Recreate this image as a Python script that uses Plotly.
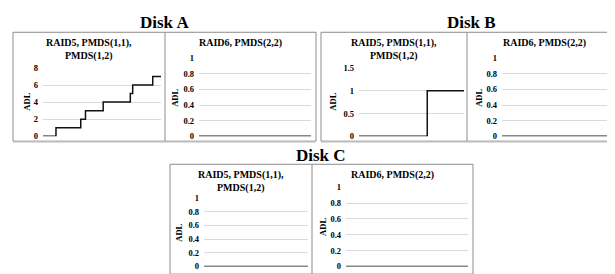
import plotly.graph_objects as go

W, H = 615, 274

# ---- data ----
time_full = [0, 100]
zeros = [0, 0]

diskA_raid5_time = [0, 11, 32, 36, 51, 74, 76, 93, 100]
diskA_raid5_adl = [0, 1, 2, 3, 4, 5, 6, 7, 7]
diskA_raid6_adl = zeros

diskB_raid5_time = [0, 65, 100]
diskB_raid5_adl = [0, 1, 1]
diskB_raid6_adl = zeros

diskC_raid5_adl = zeros
diskC_raid6_adl = zeros

ticks_0_8 = [0, 2, 4, 6, 8]
ticks_0_15 = [0, 0.5, 1, 1.5]
tick_text_0_15 = ["0", "0.5", "1", "1.5"]
ticks_0_1 = [0, 0.2, 0.4, 0.6, 0.8, 1]
tick_text_0_1 = ["0", "0.2", "0.4", "0.6", "0.8", "1"]

disk_titles = ["Disk A", "Disk B", "Disk C"]
panel_left_title = "RAID5, PMDS(1,1),<br>PMDS(1,2)"
panel_right_title = "RAID6, PMDS(2,2)"


def px(x):
    return x / W


def py(y):
    return 1 - y / H


FONT = "Liberation Serif"

panels = [
    dict(x=(35, 153), y=(57, 128), rng=[0, 8], tv=ticks_0_8, tt=[str(v) for v in ticks_0_8],
         t=diskA_raid5_time, v=diskA_raid5_adl),
    dict(x=(191, 303), y=(47, 128), rng=[0, 1], tv=ticks_0_1, tt=tick_text_0_1,
         t=time_full, v=diskA_raid6_adl),
    dict(x=(351, 456), y=(57, 128), rng=[0, 1.5], tv=ticks_0_15, tt=tick_text_0_15,
         t=diskB_raid5_time, v=diskB_raid5_adl),
    dict(x=(494, 610), y=(47, 128), rng=[0, 1], tv=ticks_0_1, tt=tick_text_0_1,
         t=time_full, v=diskB_raid6_adl),
    dict(x=(196, 300), y=(192, 263), rng=[0, 1], tv=ticks_0_1, tt=tick_text_0_1,
         t=time_full, v=diskC_raid5_adl),
    dict(x=(338, 460), y=(181, 263), rng=[0, 1], tv=ticks_0_1, tt=tick_text_0_1,
         t=time_full, v=diskC_raid6_adl),
]

fig = go.Figure()
layout = dict(
    width=W, height=H, margin=dict(l=0, r=0, t=0, b=0),
    paper_bgcolor="white", plot_bgcolor="white", showlegend=False,
    font=dict(family=FONT, color="#000"),
)

for i, p in enumerate(panels, start=1):
    xa = "x" if i == 1 else f"x{i}"
    ya = "y" if i == 1 else f"y{i}"
    fig.add_trace(go.Scatter(
        x=p["t"], y=p["v"], mode="lines", line=dict(color="#111", width=1.5, shape="hv"),
        xaxis=xa, yaxis=ya, cliponaxis=False, hoverinfo="skip",
    ))
    key = "" if i == 1 else str(i)
    layout["xaxis" + key] = dict(
        domain=[px(p["x"][0]), px(p["x"][1])], range=[0, 100], anchor=ya,
        showgrid=False, zeroline=False, showticklabels=False, showline=False, fixedrange=True,
    )
    layout["yaxis" + key] = dict(
        domain=[py(p["y"][1]), py(p["y"][0])], range=p["rng"], anchor=xa,
        tickvals=p["tv"], ticktext=p["tt"], showgrid=True, gridcolor="#d9d9d9", gridwidth=1,
        zeroline=False, showline=False, ticks="", ticklabelstandoff=4,
        tickfont=dict(family=FONT, size=8.5, weight="bold", color="#000"), fixedrange=True,
    )

shapes = []
annotations = []

boxes = [  # (x0, xmid, x1, ytop, ybot)
    (5, 157, 308, 20, 133),
    (313, 459, 614, 20, 133),
    (162, 304, 465, 157, 271),
]
title_pos = [(156, 10), (463, 10), (313, 148)]

for (x0, xm, x1, yt, yb), (tx, ty), title in zip(boxes, title_pos, disk_titles):
    shapes.append(dict(type="rect", xref="paper", yref="paper", x0=px(x0), x1=px(x1),
                       y0=py(yb), y1=py(yt), line=dict(color="#8c8c8c", width=1)))
    shapes.append(dict(type="line", xref="paper", yref="paper", x0=px(xm), x1=px(xm),
                       y0=py(yb), y1=py(yt), line=dict(color="#8c8c8c", width=1)))
    shapes.append(dict(type="line", xref="paper", yref="paper", x0=px(x0), x1=px(x1),
                       y0=py(yb + 1), y1=py(yb + 1), line=dict(color="#c8c8c8", width=1)))
    annotations.append(dict(text="<b>" + title + "</b>", x=px(tx), y=py(ty), xref="paper", yref="paper",
                            showarrow=False, font=dict(family=FONT, size=17, color="#000"),
                            xanchor="center", yanchor="middle"))
    annotations.append(dict(text="<b>" + panel_left_title + "</b>", x=px((x0 + xm) / 2), y=py(yt + 3),
                            xref="paper", yref="paper", showarrow=False,
                            font=dict(family=FONT, size=10, color="#000"),
                            xanchor="center", yanchor="top"))
    annotations.append(dict(text="<b>" + panel_right_title + "</b>", x=px((xm + x1) / 2), y=py(yt + 3),
                            xref="paper", yref="paper", showarrow=False,
                            font=dict(family=FONT, size=10, color="#000"),
                            xanchor="center", yanchor="top"))

adl_pos = [(19, 92), (167, 88), (325, 92), (471, 88), (171, 228), (315, 222)]
for ax_x, ax_y in adl_pos:
    annotations.append(dict(text="<b>ADL</b>", x=px(ax_x), y=py(ax_y), xref="paper", yref="paper",
                            showarrow=False, textangle=-90,
                            font=dict(family=FONT, size=8.5, color="#000"),
                            xanchor="center", yanchor="middle"))

layout["shapes"] = shapes
layout["annotations"] = annotations
fig.update_layout(**layout)
fig.write_html("out.html", config={"displayModeBar": False})
